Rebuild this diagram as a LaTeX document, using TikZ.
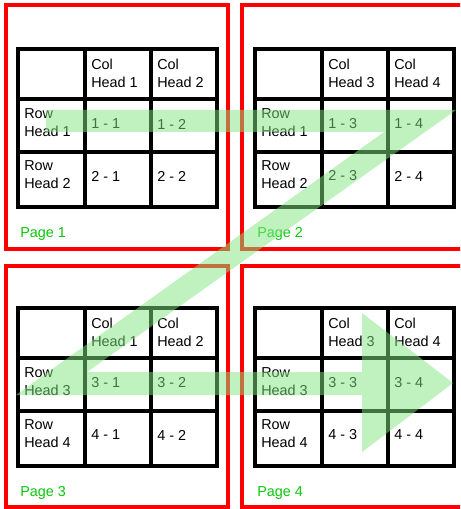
\documentclass[tikz,border=0pt]{standalone}
\usepackage{fontspec}
\setmainfont{Liberation Sans}
\definecolor{pagered}{RGB}{255,0,0}
\definecolor{pagegreen}{RGB}{10,200,10}
\definecolor{flowgreen}{RGB}{130,230,130}
\tikzset{
  pagebox/.style={draw=pagered, line width=2.3pt},
  tbl/.style={draw=black, line width=2.3pt},
  cell/.style={anchor=west, inner sep=0pt, align=left, font=\fontsize{10.8pt}{13.5pt}\selectfont},
  pagelabel/.style={anchor=west, inner sep=0pt, text=pagegreen, font=\fontsize{10.8pt}{13.5pt}\selectfont},
  flow/.style={fill=flowgreen, fill opacity=0.5, draw=none}
}
\newcommand\mytable[7]{%
  \begin{scope}[shift={(#2,#3)}]
    \draw[tbl] (0,0) rectangle (199,158);
    \draw[tbl] (67,0) -- (67,158) (133,0) -- (133,158) (0,50) -- (199,50) (0,103) -- (199,103);
    \node[cell] (#1ca) at (73,24) {Col\\Head #4};
    \node[cell] (#1cb) at (139,24) {Col\\Head #5};
    \node[cell] (#1ra) at (6,74) {Row\\Head #6};
    \node[cell] (#1rb) at (6,126) {Row\\Head #7};
    \node[cell] (#1aa) at (73,75) {#6 - #4};
    \node[cell] (#1ab) at (139,75) {#6 - #5};
    \node[cell] (#1ba) at (73,127) {#7 - #4};
    \node[cell] (#1bb) at (139,127) {#7 - #5};
  \end{scope}}
\begin{document}
\begin{tikzpicture}[x=0.75pt,y=-0.75pt]
  \clip (0,0) rectangle (460,509);
  \fill[white] (0,0) rectangle (460,509);
  % page boxes
  \draw[pagebox] (6,5) rectangle (228,249);
  \draw[pagebox] (242,5) rectangle (480,249);
  \draw[pagebox] (6,266) rectangle (228,507);
  \draw[pagebox] (242,266) rectangle (480,507);
  % tables
  \mytable{p1}{18}{49}{1}{2}{1}{2}
  \mytable{p2}{255}{49}{3}{4}{1}{2}
  \mytable{p3}{18}{308}{1}{2}{3}{4}
  \mytable{p4}{255}{308}{3}{4}{3}{4}
  % page labels
  \node[pagelabel] (l1) at (20,234) {Page 1};
  \node[pagelabel] (l2) at (257,234) {Page 2};
  \node[pagelabel] (l3) at (20,493) {Page 3};
  \node[pagelabel] (l4) at (257,493) {Page 4};
  % reading-order arrow
  \path[flow] (46,110) -- (456,110) -- (87,372) -- (362,372) -- (362,313)
    -- (453,383) -- (362,452) -- (362,395) -- (16,395) -- (384,132) -- (46,132) -- cycle;
\end{tikzpicture}
\end{document}
